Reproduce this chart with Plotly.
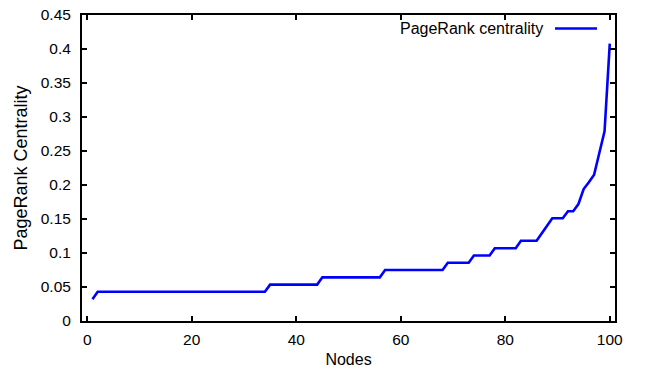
import plotly.graph_objects as go

# Node index (sorted by centrality) and PageRank centrality value
nodes = list(range(1, 101))
pagerank = (
    [0.032]
    + [0.043] * 33          # nodes 2-34
    + [0.0535] * 10         # nodes 35-44
    + [0.0642] * 12         # nodes 45-56
    + [0.075] * 12          # nodes 57-68
    + [0.0856] * 5          # nodes 69-73
    + [0.0963] * 4          # nodes 74-77
    + [0.107] * 5           # nodes 78-82
    + [0.118] * 4           # nodes 83-86
    + [0.129, 0.140]        # nodes 87-88
    + [0.151] * 3           # nodes 89-91
    + [0.1615, 0.1615]      # nodes 92-93
    + [0.172, 0.194, 0.204, 0.215, 0.247, 0.279, 0.408]  # nodes 94-100
)

series_name = "PageRank centrality"
x_ticks = [0, 20, 40, 60, 80, 100]

FONT = "Liberation Sans, Arial, Helvetica, sans-serif"
FS = 15.5

fig = go.Figure()
fig.add_trace(go.Scatter(
    x=nodes, y=pagerank, mode="lines", name=series_name,
    line=dict(color="#0000ff", width=2.6), showlegend=False,
))

axis_common = dict(
    showgrid=False, zeroline=False, automargin=False,
    showline=True, linecolor="black", linewidth=2,
    ticks="inside", ticklen=5, tickwidth=2, tickcolor="black",
    mirror="allticks",
    tickfont=dict(family=FONT, size=FS, color="black"),
)

fig.update_xaxes(
    range=[-1, 101], tickvals=x_ticks, ticklabelstandoff=3,
    title=dict(text="Nodes", font=dict(family=FONT, size=16, color="black"), standoff=7),
    **axis_common,
)
fig.update_yaxes(
    range=[0, 0.45], tick0=0, dtick=0.05, ticklabelstandoff=6,
    title=dict(text="PageRank Centrality", font=dict(family=FONT, size=18, color="black"), standoff=8),
    **axis_common,
)

# gnuplot-style key: label on the left, line sample on the right
fig.add_annotation(
    xref="paper", yref="paper", x=0.8687, y=0.956,
    xanchor="right", yanchor="middle", showarrow=False,
    text=series_name, font=dict(family=FONT, size=16, color="black"),
)
fig.add_shape(
    type="line", xref="paper", yref="paper",
    x0=0.8874, x1=0.9662, y0=0.956, y1=0.956,
    line=dict(color="#0000ff", width=2.6),
)

fig.update_layout(
    width=645, height=370,
    margin=dict(l=82, r=30, t=15, b=49),
    paper_bgcolor="white", plot_bgcolor="white",
    font=dict(family=FONT, color="black"),
)

fig.write_html("out.html")
